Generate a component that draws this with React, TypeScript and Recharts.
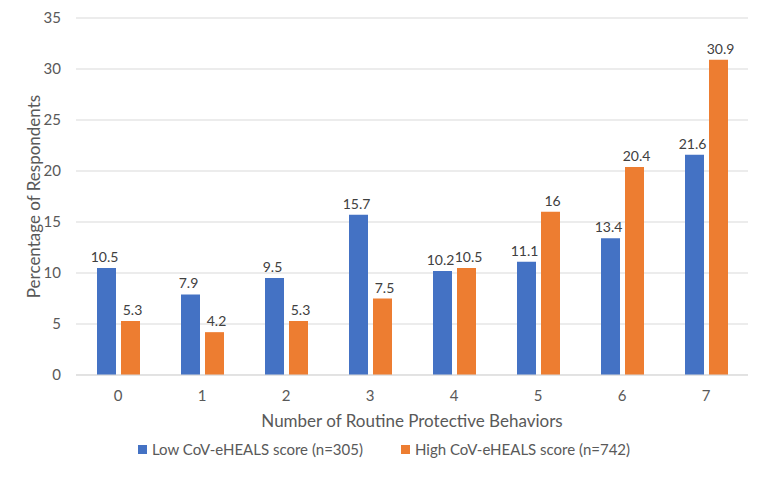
import { BarChart, Bar, CartesianGrid, XAxis, YAxis, Legend, LabelList } from "recharts";

const behaviors: string[] = ["0", "1", "2", "3", "4", "5", "6", "7"];
const lowScore: number[] = [10.5, 7.9, 9.5, 15.7, 10.2, 11.1, 13.4, 21.6];
const highScore: number[] = [5.3, 4.2, 5.3, 7.5, 10.5, 16, 20.4, 30.9];
const yTicks: number[] = [0, 5, 10, 15, 20, 25, 30, 35];
const seriesNames: string[] = ["Low CoV-eHEALS score (n=305)", "High CoV-eHEALS score (n=742)"];
const seriesColors: string[] = ["#4472C4", "#ED7D31"];

const data = behaviors.map((b, i) => ({
    behaviors: b,
    low: lowScore[i],
    high: highScore[i],
}));

const font = "Lato, 'Open Sans', sans-serif";
const textColor = "#595959";

function LegendBox() {
    return (
        <div style={{ display: "flex", justifyContent: "center", gap: 38, paddingTop: 13, paddingLeft: 20, fontSize: 15, color: textColor, fontFamily: font }}>
            {seriesNames.map((name, i) => (
                <div key={name} style={{ display: "flex", alignItems: "center", gap: 5 }}>
                    <span style={{ width: 9, height: 9, background: seriesColors[i], display: "inline-block" }} />
                    <span>{name}</span>
                </div>
            ))}
        </div>
    );
}

export default function App() {
    return (
        <div style={{ width: 764, height: 487, background: "#fff", fontFamily: font }}>
            <BarChart
                width={764}
                height={487}
                data={data}
                margin={{ top: 18, right: 16, left: 0, bottom: 0 }}
                barSize={19}
                barGap={5}
                style={{ position: "absolute", left: 0, top: 0 }}
            >
                <CartesianGrid vertical={false} stroke="#d9d9d9" />
                <XAxis
                    dataKey="behaviors"
                    height={52}
                    axisLine={{ stroke: "#d9d9d9" }}
                    tickLine={false}
                    tickMargin={9}
                    tick={{ fontSize: 15, fill: textColor, fontFamily: font }}
                    label={{
                        value: "Number of Routine Protective Behaviors",
                        position: "insideBottom",
                        offset: 0,
                        style: { fontSize: 17, fill: textColor, fontFamily: font },
                    }}
                />
                <YAxis
                    width={76}
                    domain={[0, 35]}
                    ticks={yTicks}
                    axisLine={false}
                    tickLine={false}
                    tickMargin={9}
                    tick={{ fontSize: 15, fill: textColor, fontFamily: font }}
                    label={{
                        value: "Percentage of Respondents",
                        angle: -90,
                        position: "center",
                        dx: -4,
                        style: { fontSize: 17, fill: textColor, fontFamily: font, textAnchor: "middle" },
                    }}
                />
                <Legend verticalAlign="bottom" height={60} content={<LegendBox />} />
                <Bar dataKey="low" name={seriesNames[0]} fill={seriesColors[0]} isAnimationActive={false}>
                    <LabelList dataKey="low" position="top" offset={6} dx={-2} style={{ fontSize: 14, fill: "#404040", fontFamily: font }} />
                </Bar>
                <Bar dataKey="high" name={seriesNames[1]} fill={seriesColors[1]} isAnimationActive={false}>
                    <LabelList dataKey="high" position="top" offset={6} dx={2} style={{ fontSize: 14, fill: "#404040", fontFamily: font }} />
                </Bar>
            </BarChart>
        </div>
    );
}
